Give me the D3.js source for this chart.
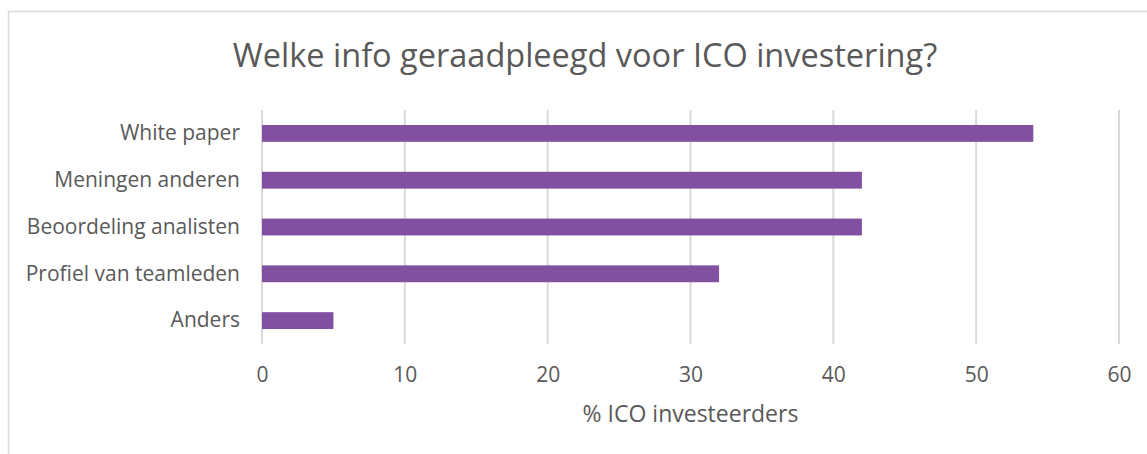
<!DOCTYPE html>
<meta charset="utf-8">
<script src="https://d3js.org/d3.v7.min.js"></script>
<style>
  body { margin: 0; background: #fff; }
  text { font-family: "Open Sans", sans-serif; fill: #595959; }
</style>
<div id="chart"></div>
<script>
// data
var categories = ["White paper", "Meningen anderen", "Beoordeling analisten", "Profiel van teamleden", "Anders"];
var values = [54, 42, 42, 32, 5];
var xTicks = [0, 10, 20, 30, 40, 50, 60];

var W = 1147, H = 454;
var margin = {top: 110, right: 28, bottom: 110, left: 262};
var width = W - margin.left - margin.right,
    height = H - margin.top - margin.bottom;

var svg = d3.select("#chart").append("svg")
    .attr("width", W)
    .attr("height", H);

// chart border (only left & top visible in the original)
svg.append("rect")
    .attr("x", 8.5).attr("y", 11.5)
    .attr("width", W + 20).attr("height", H + 20)
    .attr("fill", "none")
    .attr("stroke", "#d9d9d9")
    .attr("stroke-width", 1.5);

var g = svg.append("g")
    .attr("transform", "translate(" + margin.left + "," + margin.top + ")");

var x = d3.scaleLinear().domain([0, 60]).range([0, width]);
var y = d3.scaleBand().domain(categories).range([0, height]).paddingInner(0.64).paddingOuter(0.32);

// gridlines
g.selectAll(".grid")
  .data(xTicks)
  .enter().append("line")
    .attr("x1", function(d) { return x(d); })
    .attr("x2", function(d) { return x(d); })
    .attr("y1", 0)
    .attr("y2", height)
    .attr("stroke", "#d9d9d9")
    .attr("stroke-width", 2);

// bars
g.selectAll(".bar")
  .data(values)
  .enter().append("rect")
    .attr("x", x(0))
    .attr("y", function(d, i) { return y(categories[i]); })
    .attr("width", function(d) { return x(d) - x(0); })
    .attr("height", y.bandwidth())
    .attr("fill", "#8150a0");

// x axis
var xAxis = g.append("g")
    .attr("transform", "translate(0," + height + ")")
    .call(d3.axisBottom(x).tickValues(xTicks).tickSize(0).tickPadding(23));
xAxis.select(".domain").remove();
xAxis.selectAll("text").style("font-size", "21px").attr("fill", "#595959");

// y axis
var yAxis = g.append("g")
    .call(d3.axisLeft(y).tickSize(0).tickPadding(22));
yAxis.select(".domain").remove();
yAxis.selectAll("text").style("font-size", "21px").attr("fill", "#595959");

// title
svg.append("text")
    .attr("x", 585)
    .attr("y", 67)
    .attr("text-anchor", "middle")
    .style("font-size", "32.5px")
    .text("Welke info geraadpleegd voor ICO investering?");

// axis title
svg.append("text")
    .attr("x", margin.left + width / 2)
    .attr("y", 422)
    .attr("text-anchor", "middle")
    .style("font-size", "23px")
    .text("% ICO investeerders");
</script>
